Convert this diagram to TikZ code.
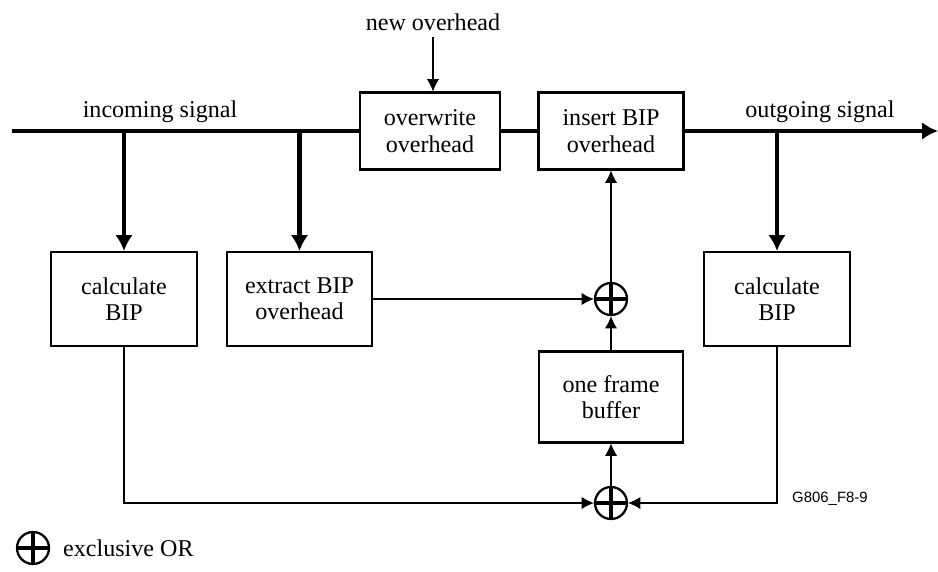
\documentclass[tikz,border=0pt]{standalone}
\usepackage{fontspec}
\setmainfont{Liberation Serif}
\newfontfamily\labelfont{Liberation Sans}
\usetikzlibrary{arrows.meta}
\tikzset{>={Latex[length=7pt,width=7pt]}}

\begin{document}
\begin{tikzpicture}[x=0.02cm, y=-0.02cm,
  font=\fontsize{13.7}{15}\selectfont,
  block/.style={draw, line width=1.2pt, align=center, inner sep=0pt},
  xor/.style={circle, draw, line width=1.3pt, minimum size=0.64cm, inner sep=0pt,
    path picture={\draw[line width=2.4pt]
      (path picture bounding box.north) -- (path picture bounding box.south)
      (path picture bounding box.west) -- (path picture bounding box.east);}},
  bus/.style={line width=2.3pt, -{Latex[length=9pt,width=10pt]}},
  sig/.style={line width=0.6pt, ->}]

  \useasboundingbox (0,0) rectangle (938,572);

  % blocks on the signal path
  \node[block, minimum width=2.8cm, minimum height=1.54cm] (overwrite) at (430,131) {overwrite\\overhead};
  \node[block, minimum width=2.9cm, minimum height=1.54cm] (insert) at (611,131) {insert BIP\\overhead};

  % lower blocks
  \node[block, minimum width=2.92cm, minimum height=1.88cm] (calcin) at (124,299) {calculate\\BIP};
  \node[block, minimum width=2.9cm, minimum height=1.88cm] (extract) at (299.5,299) {extract BIP\\overhead};
  \node[block, minimum width=2.92cm, minimum height=1.88cm] (calcout) at (777,299) {calculate\\BIP};
  \node[block, minimum width=2.88cm, minimum height=1.82cm] (buffer) at (611,397) {one frame\\buffer};

  \node[xor] (xortop) at (611,299) {};
  \node[xor] (xorbot) at (611,503) {};

  % texts
  \node (newoh) at (433,22) {new overhead};
  \node (insig) at (160,112) {incoming signal};
  \node (outsig) at (820,112) {outgoing signal};
  \node[anchor=west, font=\labelfont\fontsize{8.5}{10}\selectfont] (figid) at (786,499) {G806\_F8-9};

  \coordinate (start) at (12,131);
  \coordinate (end) at (938,131);
  \coordinate (tapa) at (124,131);
  \coordinate (tapb) at (299.5,131);
  \coordinate (tapc) at (777,131);

  % main signal
  \draw[line width=2.3pt] (start) -- (overwrite.west);
  \draw[line width=2.3pt] (overwrite.east) -- (insert.west);
  \draw[bus] (insert.east) -- (end);
  \draw[bus] (tapa) -- (calcin.north);
  \draw[bus] (tapb) -- (extract.north);
  \draw[bus] (tapc) -- (calcout.north);

  % thin connections
  \draw[sig] (newoh) -- (newoh |- overwrite.north);
  \draw[sig] (extract.east) -- (xortop.west);
  \draw[sig] (xortop) -- (insert.south);
  \draw[sig] (buffer) -- (xortop.south);
  \draw[sig] (xorbot) -- (buffer.south);
  \draw[sig] (calcin.south) |- (xorbot.west);
  \draw[sig] (calcout.south) |- (xorbot.east);

  % legend
  \node[xor] (legxor) at (33,548) {};
  \node[anchor=west] (legtxt) at (57,548) {exclusive OR};

\end{tikzpicture}
\end{document}
